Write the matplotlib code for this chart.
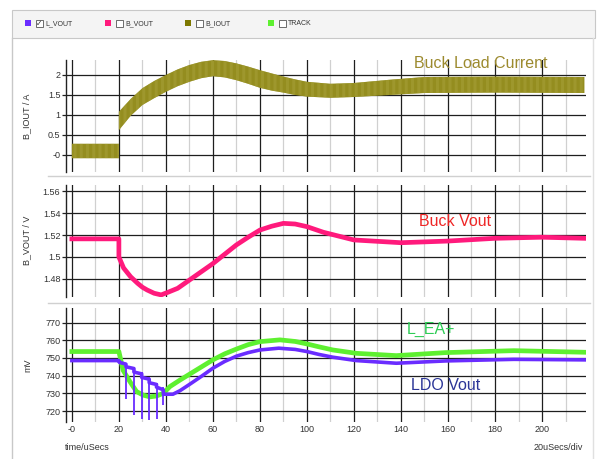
import matplotlib.pyplot as plt
from matplotlib.patches import Rectangle
from matplotlib.lines import Line2D

plt.rcParams['font.family'] = ['Liberation Sans', 'DejaVu Sans']
plt.rcParams['hatch.linewidth'] = 0.45

# B_IOUT ripple band (upper / lower envelope), A
iout_t = [0, 20, 20, 25, 30, 35, 40, 45, 50, 55, 60, 65, 70, 75, 80, 85, 90, 95, 100, 110, 120, 135, 150, 180, 218]
iout_hi = [0.28, 0.28, 1.08, 1.40, 1.67, 1.85, 2.00, 2.14, 2.25, 2.33, 2.37, 2.35, 2.29, 2.21, 2.12, 2.04,
           1.96, 1.89, 1.83, 1.78, 1.80, 1.88, 1.95, 1.96, 1.95]
iout_lo = [-0.08, -0.08, 0.62, 0.98, 1.25, 1.42, 1.58, 1.72, 1.83, 1.92, 1.97, 1.94, 1.87, 1.78, 1.68, 1.61,
           1.56, 1.50, 1.46, 1.43, 1.45, 1.50, 1.55, 1.56, 1.55]

# B_VOUT, V
bv_t = [0, 20, 20, 22, 25, 28, 30, 32, 35, 38, 41, 45, 50, 55, 60, 65, 70, 75, 80, 85, 90, 95, 100, 107,
        120, 140, 160, 180, 200, 218]
bv_v = [1.5165, 1.5165, 1.500, 1.490, 1.482, 1.476, 1.4725, 1.470, 1.467, 1.4655, 1.468, 1.4715, 1.479,
        1.4865, 1.494, 1.5025, 1.511, 1.518, 1.5245, 1.528, 1.5306, 1.5300, 1.5276, 1.5225, 1.5155, 1.513,
        1.5145, 1.517, 1.518, 1.517]

# TRACK (L_EA+), mV
tr_t = [0, 20, 21.8, 24.7, 27.5, 30.3, 33.2, 36, 38.9, 41.7, 46, 53, 60, 65, 70, 75, 80, 88.5, 95, 100,
        105, 111, 121, 138, 159, 188, 218]
tr_v = [753.6, 753.6, 743, 736.6, 731, 729, 728, 728.5, 730, 733.8, 737.5, 743.2, 748.9, 752.3, 755,
        757.5, 759.2, 760.2, 759.3, 757.9, 756.3, 754.5, 752.6, 751.3, 753, 754.1, 753.2]

# L_VOUT (LDO Vout), mV: main trace
lv_t = [0, 20, 20.2, 23.0, 23.0, 26.4, 26.4, 29.7, 29.7, 32.9, 32.9, 36.0, 36.0, 38.9, 38.9, 40, 43, 46,
        50, 55, 60, 65, 70, 75, 80, 88, 95, 100, 105, 111, 121, 138, 159, 188, 218]
lv_v = [748.5, 748.5, 747.5, 746.5, 745, 744, 742, 741, 739, 738, 736, 735, 733.5, 732, 729.5, 729.5,
        729.5, 731.5, 735, 739.5, 744.2, 748, 751, 753, 754.5, 755.5, 754.8, 753.6, 752, 750.4, 748.5,
        747, 748.3, 749.2, 748.9]
# L_VOUT switching spikes: time, top, bottom (mV)
spike_t = [23.0, 26.4, 29.7, 32.9, 36.0, 38.9]
spike_top = [746.5, 745, 742, 739, 736, 733.5]
spike_bot = [727, 718, 715.5, 715, 715.5, 723.5]

xticks = [0, 20, 40, 60, 80, 100, 120, 140, 160, 180, 200]
xtick_labels = ['-0', '20', '40', '60', '80', '100', '120', '140', '160', '180', '200']
iout_ticks = [0, 0.5, 1, 1.5, 2]
iout_labels = ['-0', '0.5', '1', '1.5', '2']
bv_ticks = [1.48, 1.5, 1.52, 1.54, 1.56]
bv_labels = ['1.48', '1.5', '1.52', '1.54', '1.56']
mv_ticks = [720, 730, 740, 750, 760, 770]

C_LV = '#6a2cff'
C_BV = '#ff1a7c'
C_IO = '#7d7800'
C_TR = '#5ef030'

W, H = 597, 459
fig = plt.figure(figsize=(W / 100, H / 100), dpi=100)


def px_axes(left, top, right, bottom):
    return fig.add_axes([left / W, 1 - bottom / H, (right - left) / W, (bottom - top) / H])


def style(ax, bottom_labels=False):
    for s in ['top', 'right', 'bottom']:
        ax.spines[s].set_visible(False)
    ax.spines['left'].set_color('#222222')
    ax.spines['left'].set_linewidth(1.0)
    ax.set_xlim(-2.5, 218.5)
    ax.set_xticks(xticks)
    ax.set_xticks(list(range(10, 220, 20)), minor=True)
    ax.grid(True, which='major', color='#1e1e1e', linewidth=0.9)
    ax.grid(True, which='minor', axis='x', color='#d0d0d0', linewidth=0.9)
    ax.tick_params(axis='y', length=3, width=0.9, color='#222222', labelsize=6.5, pad=1, labelcolor='#333333')
    ax.tick_params(axis='x', which='both', length=0)
    if bottom_labels:
        ax.set_xticklabels(xtick_labels)
        ax.tick_params(axis='x', labelsize=6.5, pad=2, labelcolor='#333333')
    else:
        ax.set_xticklabels([])
    ax.set_axisbelow(True)


# legend bar and frame
fig.patches.append(Rectangle((12 / W, 1 - 38 / H), (W - 14) / W, 28 / H, transform=fig.transFigure,
                             facecolor='#f4f4f4', edgecolor='#c8c8c8', linewidth=0.8))
fig.add_artist(Line2D([12 / W, 12 / W], [0, 1 - 38 / H], color='#c8c8c8', linewidth=1.0))
fig.add_artist(Line2D([593 / W, 593 / W], [0, 1 - 38 / H], color='#e0e0e0', linewidth=1.0))
for y in [176, 303]:
    fig.add_artist(Line2D([48 / W, 590 / W], [1 - y / H, 1 - y / H], color='#d0d0d0', linewidth=1.0))

legend_items = [('L_VOUT', C_LV, 25, True), ('B_VOUT', C_BV, 105, False),
                ('B_IOUT', C_IO, 185, False), ('TRACK', C_TR, 268, False)]
for name, col, x0, checked in legend_items:
    fig.patches.append(Rectangle((x0 / W, 1 - 26 / H), 6 / W, 6 / H, transform=fig.transFigure,
                                 facecolor=col, edgecolor='none'))
    fig.patches.append(Rectangle(((x0 + 11) / W, 1 - 26.5 / H), 6.5 / W, 6.5 / H, transform=fig.transFigure,
                                 facecolor='white', edgecolor='#555555', linewidth=0.6))
    if checked:
        fig.text((x0 + 14.2) / W, 1 - 23.2 / H, '✓', fontsize=5.5, ha='center', va='center',
                 color='#333333', family='DejaVu Sans')
    fig.text((x0 + 20) / W, 1 - 25.2 / H, name, fontsize=5, ha='left', va='baseline', color='#333333')

# panel 1: B_IOUT
ax1 = px_axes(66, 60, 585.5, 172)
style(ax1)
ax1.set_ylim(-0.425, 2.375)
ax1.set_yticks(iout_ticks)
ax1.set_yticklabels(iout_labels)
ax1.fill_between(iout_t, iout_lo, iout_hi, facecolor=C_IO, edgecolor='#b2aa48', hatch='|' * 14,
                 linewidth=0, zorder=3)
ax1.text(174, 2.3, 'Buck Load Current', fontsize=11.5, color='#9c8a2e', ha='center', va='center', zorder=5)

# panel 2: B_VOUT
ax2 = px_axes(66, 185, 585.5, 297)
style(ax2)
ax2.set_ylim(1.4636, 1.5655)
ax2.set_yticks(bv_ticks)
ax2.set_yticklabels(bv_labels)
ax2.plot(bv_t, bv_v, color=C_BV, linewidth=3.4, zorder=3)
ax2.text(163, 1.5325, 'Buck Vout', fontsize=11.5, color='#ee2626', ha='center', va='center', zorder=5)

# panel 3: TRACK and L_VOUT
ax3 = px_axes(66, 308, 585.5, 422)
style(ax3, bottom_labels=True)
ax3.set_ylim(713.8, 778.2)
ax3.set_yticks(mv_ticks)
ax3.plot(tr_t, tr_v, color=C_TR, linewidth=3.4, zorder=3)
ax3.vlines(spike_t, spike_bot, spike_top, color=C_LV, linewidth=1.3, zorder=4)
ax3.plot(lv_t, lv_v, color=C_LV, linewidth=2.6, zorder=4)
ax3.text(152.8, 766, 'L_EA+', fontsize=11.5, color='#2ecc55', ha='center', va='center', zorder=5)
ax3.text(159, 734.2, 'LDO Vout', fontsize=11.5, color='#2b3597', ha='center', va='center', zorder=5)

# axis titles
fig.text(27 / W, 1 - 116 / H, 'B_IOUT / A', rotation=90, fontsize=6.5, ha='center', va='center', color='#333333')
fig.text(27 / W, 1 - 240 / H, 'B_VOUT / V', rotation=90, fontsize=6.5, ha='center', va='center', color='#333333')
fig.text(28 / W, 1 - 365 / H, 'mV', rotation=90, fontsize=6.5, ha='center', va='center', color='#333333')
fig.text(65 / W, 1 - 447 / H, 'time/uSecs', fontsize=6.5, ha='left', va='center', color='#333333')
fig.text(583 / W, 1 - 447 / H, '20uSecs/div', fontsize=6.5, ha='right', va='center', color='#333333')

fig.savefig('out.png', dpi=100, facecolor='white')
